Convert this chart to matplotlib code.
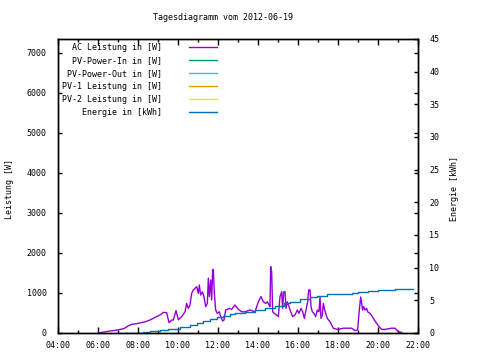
import matplotlib
matplotlib.use("Agg")
import matplotlib.pyplot as plt
from matplotlib.ticker import MultipleLocator, FuncFormatter

# AC Leistung [W]
ac_zeit = ["06:01", "06:36", "06:59", "07:18", "07:30", "07:41", "08:00", "08:21",
           "08:36", "08:51", "09:06", "09:16", "09:26", "09:33", "09:41", "09:46",
           "09:54", "10:01", "10:11", "10:21", "10:26", "10:31", "10:36", "10:41",
           "10:46", "10:51", "10:56", "11:01", "11:04", "11:08", "11:13", "11:18",
           "11:23", "11:28", "11:31", "11:34", "11:38", "11:41", "11:44", "11:46",
           "11:49", "11:53", "11:58", "12:04", "12:08", "12:14", "12:18", "12:23",
           "12:28", "12:34", "12:41", "12:51", "13:01", "13:11", "13:21", "13:36",
           "13:51", "14:01", "14:09", "14:16", "14:23", "14:28", "14:33", "14:36",
           "14:38", "14:41", "14:44", "14:49", "14:56", "15:01", "15:06", "15:11",
           "15:14", "15:17", "15:21", "15:24", "15:28", "15:33", "15:38", "15:44",
           "15:51", "15:58", "16:03", "16:09", "16:14", "16:19", "16:24", "16:29",
           "16:32", "16:36", "16:39", "16:43", "16:48", "16:53", "16:58", "17:03",
           "17:06", "17:09", "17:13", "17:16", "17:19", "17:23", "17:28", "17:36",
           "17:41", "17:46", "17:54", "18:01", "18:16", "18:41", "18:51", "18:59",
           "19:03", "19:08", "19:11", "19:14", "19:17", "19:21", "19:26", "19:29",
           "19:36", "19:43", "19:49", "19:56", "20:03", "20:11", "20:21", "20:41",
           "20:51", "20:56", "21:01", "21:11"]
ac_leistung = [0, 50, 75, 110, 175, 215, 240, 280,
               325, 390, 450, 515, 510, 260, 325, 325,
               560, 330, 410, 530, 740, 615, 700, 990,
               1075, 1115, 1160, 990, 1200, 950, 1030, 910,
               660, 740, 1370, 910, 1325, 825, 1575, 1590,
               990, 575, 490, 530, 410, 300, 325, 575,
               590, 615, 590, 700, 590, 530, 530, 575,
               530, 780, 910, 780, 740, 780, 700, 660,
               1660, 1530, 530, 490, 450, 410, 910, 1030,
               615, 1030, 1030, 615, 780, 660, 530, 410,
               450, 575, 490, 615, 530, 365, 575, 780,
               1075, 1075, 660, 530, 490, 410, 575, 530,
               910, 365, 450, 740, 615, 490, 365, 280,
               200, 120, 100, 90, 120, 120, 60, 75,
               490, 900, 740, 575, 660, 575, 615, 530,
               490, 410, 325, 240, 160, 90, 90, 120,
               120, 75, 30, 15]

# Energie [kWh]
en_zeit = ["07:00", "08:16", "08:36", "09:06", "09:30", "10:06", "10:36", "10:56",
           "11:15", "11:36", "11:56", "12:15", "12:36", "12:51", "13:21", "13:51",
           "14:21", "14:51", "15:19", "15:36", "16:06", "16:36", "16:56", "17:26",
           "18:41", "19:01", "19:31", "20:01", "20:51", "21:46"]
energie = [0.05, 0.2, 0.35, 0.5, 0.65, 0.97, 1.22, 1.58,
           1.84, 2.1, 2.4, 2.6, 2.86, 3.0, 3.26, 3.52,
           3.78, 4.2, 4.6, 4.8, 5.16, 5.47, 5.67, 5.97,
           6.08, 6.2, 6.43, 6.58, 6.7, 6.7]


def stunden(t):
    h, m = t.split(":")
    return int(h) + int(m) / 60


fnt = "DejaVu Sans Mono"
plt.rcParams["font.family"] = fnt
plt.rcParams["font.size"] = 6

fig = plt.figure(figsize=(4.8, 3.6), dpi=100)
ax = fig.add_axes([58 / 480, 1 - 333 / 360, 360 / 480, 294 / 360])
ax2 = ax.twinx()

l_ac, = ax.plot([stunden(t) for t in ac_zeit], ac_leistung, color="#9400d3", lw=1.0,
                label="AC Leistung in [W]")
l_in, = ax.plot([], [], color="#009e73", lw=1.0, label="PV-Power-In in [W]")
l_out, = ax.plot([], [], color="#56b4e9", lw=1.0, label="PV-Power-Out in [W]")
l_p1, = ax.plot([], [], color="#e69f00", lw=1.0, label="PV-1 Leistung in [W]")
l_p2, = ax.plot([], [], color="#f0e442", lw=1.0, label="PV-2 Leistung in [W]")
l_en, = ax2.plot([stunden(t) for t in en_zeit], energie, color="#0072b2", lw=1.0,
                 drawstyle="steps-post", label="Energie in [kWh]")

ax.set_xlim(4, 22)
ax.set_ylim(0, 7350)
ax2.set_ylim(0, 45)

ax.xaxis.set_major_locator(MultipleLocator(2))
ax.xaxis.set_minor_locator(MultipleLocator(1))
ax.xaxis.set_major_formatter(FuncFormatter(lambda v, p: "%02d:00" % int(v)))
ax.yaxis.set_major_locator(MultipleLocator(1000))
ax2.yaxis.set_major_locator(MultipleLocator(5))

ax.tick_params(axis="x", which="major", direction="in", length=4, width=1, top=True, pad=6)
ax.tick_params(axis="x", which="minor", direction="in", length=2, width=1, top=True)
ax.tick_params(axis="y", direction="in", length=3, width=1, right=True, pad=8)
ax2.tick_params(axis="y", direction="in", length=3, width=1, pad=8)

for a in (ax, ax2):
    for s in a.spines.values():
        s.set_linewidth(1.0)

ax.set_ylabel("Leistung [W]")
ax.yaxis.set_label_coords(-0.122, 0.49)
ax2.set_ylabel("Energie [kWh]")
ax2.yaxis.set_label_coords(1.088, 0.49)
fig.text(223 / 480, 1 - 18 / 360, "Tagesdiagramm vom 2012-06-19", ha="center", va="center")

fig.legend(handles=[l_ac, l_in, l_out, l_p1, l_p2, l_en], loc="upper left",
           bbox_to_anchor=(62 / 480, 1 - 42.5 / 360), bbox_transform=fig.transFigure,
           frameon=False, markerfirst=False, borderpad=0, borderaxespad=0,
           handlelength=3.4, handletextpad=3.2, labelspacing=0.5)

fig.savefig("out.png", dpi=100)
